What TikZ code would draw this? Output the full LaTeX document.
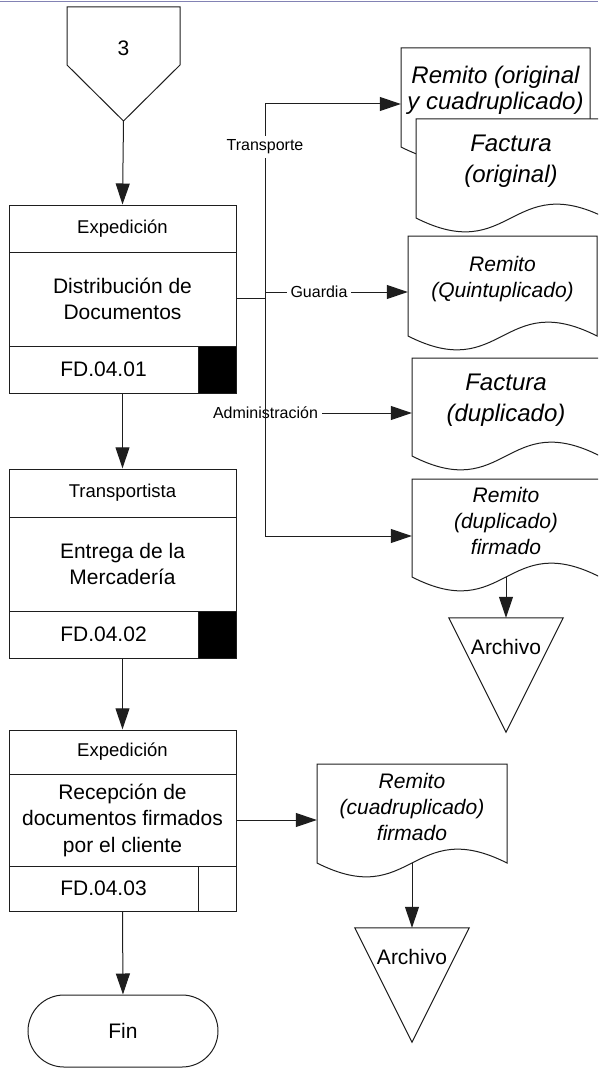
\documentclass[tikz,border=0pt]{standalone}
\usepackage{fontspec}
\setmainfont{Liberation Sans}
\usetikzlibrary{arrows.meta,fit}

\definecolor{ln}{RGB}{30,30,30}
\definecolor{rulecol}{RGB}{130,130,180}

% font sizes (1 unit = 1pt)
\newcommand\fmain{\fontsize{21}{26.5}\selectfont}
\newcommand\fhead{\fontsize{18.5}{22}\selectfont}
\newcommand\flbl{\fontsize{16}{19}\selectfont}
\newcommand\fdoc{\fontsize{21}{26}\selectfont\itshape}
\newcommand\fbig{\fontsize{24}{31}\selectfont\itshape}
\newcommand\fbigtight{\fontsize{24}{26}\selectfont\itshape}

\tikzset{
  line/.style={draw=ln, line width=1pt},
  arrow/.style={line, -{Triangle[length=21pt,width=14pt]}},
  cell/.style={draw=ln, line width=1pt, fill=white, inner sep=0pt},
  txt/.style={align=center, inner sep=0pt},
  docline/.style={draw=ln, line width=1pt, fill=white},
  lbl/.style={font=\flbl, fill=white, inner sep=4pt},
}

% cell with centred text: name, corner, corner, font, text
\newcommand{\cellbox}[5]{%
  \node[cell, fit={#2 #3}] (#1) {};
  \node[txt, font=#4] (#1t) at (#1.center) {#5};
}

% document symbol: name, left, top, right, wave base, font, text
\newcommand{\docshape}[7]{%
  \filldraw[docline] (#2,#3) -- (#4,#3) -- (#4,#5)
    .. controls ({(#2+#4)/2},{#5-48}) and ({(#2+#4)/2},{#5+48}) .. (#2,#5) -- cycle;
  \node[fit={(#2,#3) (#4,#5)}, inner sep=0pt] (#1) {};
  \node[txt, font=#6] (#1t) at ([yshift=7pt]#1.center) {#7};
}

\begin{document}
\begin{tikzpicture}[x=1pt, y=-1pt]
\useasboundingbox (0,0) rectangle (598,1070);
\clip (0,0) rectangle (598,1070);

\draw[rulecol, line width=1pt] (0,2) -- (598,2);

% off-page connector
\draw[line, fill=white] (67,7) -- (180,7) -- (180,65) -- (123.5,121) -- (67,65) -- cycle;
\node[font=\fmain] (c3) at (123.5,48) {3};
\coordinate (c3tip) at (123.5,121);

% process 1
\cellbox{h1}{(9,205)}{(236,252)}{\fhead}{Expedición}
\cellbox{b1}{(9,252)}{(236,346)}{\fmain}{Distribución de\\Documentos}
\cellbox{f1}{(9,346)}{(198,393)}{\fmain}{FD.04.01}
\node[cell, fill=black, fit={(198,346) (236,393)}] (s1) {};
\node[fit=(h1)(f1)(s1), inner sep=0pt] (p1) {};

% process 2
\cellbox{h2}{(9,469)}{(236,517)}{\fhead}{Transportista}
\cellbox{b2}{(9,517)}{(236,611)}{\fmain}{Entrega de la\\Mercadería}
\cellbox{f2}{(9,611)}{(198,658)}{\fmain}{FD.04.02}
\node[cell, fill=black, fit={(198,611) (236,658)}] (s2) {};
\node[fit=(h2)(f2)(s2), inner sep=0pt] (p2) {};

% process 3
\cellbox{h3}{(9,730)}{(236,774)}{\fhead}{Expedición}
\cellbox{b3}{(9,774)}{(236,866)}{\fmain}{Recepción de\\documentos firmados\\por el cliente}
\cellbox{f3}{(9,866)}{(198,911)}{\fmain}{FD.04.03}
\node[cell, fit={(198,866) (236,911)}] (s3) {};
\node[fit=(h3)(f3)(s3), inner sep=0pt] (p3) {};

% terminator
\node[line, rounded corners=36pt, fit={(28,995) (218,1067)}, inner sep=0pt] (fin) {};
\node[txt, font=\fmain] (fint) at (fin.center) {Fin};

% documents
\docshape{d1}{401}{48}{590}{147}{\fbigtight}{Remito (original\\y cuadruplicado)}
\docshape{d2}{416}{119}{606}{218}{\fbig}{Factura\\(original)}
\docshape{d3}{408}{236}{597}{336}{\fdoc}{Remito\\(Quintuplicado)}
\docshape{d4}{412}{358}{600}{456}{\fbig}{Factura\\(duplicado)}
\docshape{d5}{412}{479}{600}{577}{\fdoc}{Remito\\(duplicado)\\firmado}
\docshape{d6}{317}{764}{507}{863}{\fdoc}{Remito\\(cuadruplicado)\\firmado}

% archive symbols
\node[fit={(449,618) (563,732)}, inner sep=0pt] (a1) {};
\draw[line, fill=white] (a1.north west) -- (a1.north east) -- (a1.south) -- cycle;
\node[font=\fmain] (a1t) at (506,647) {Archivo};
\node[fit={(355,928) (469,1042)}, inner sep=0pt] (a2) {};
\draw[line, fill=white] (a2.north west) -- (a2.north east) -- (a2.south) -- cycle;
\node[font=\fmain] (a2t) at (412,957) {Archivo};

% main flow
\draw[arrow] (c3tip) -- (h1.north);
\draw[arrow] (p1.south) -- (p2.north);
\draw[arrow] (p2.south) -- (p3.north);
\draw[arrow] (p3.south) -- (fin.north);

% distribution branches
\coordinate (jT) at (265,104);
\coordinate (jM) at (265,298);
\coordinate (jG) at (265,292);
\coordinate (jA) at (265.5,413);
\coordinate (jB) at (265,536);

\node[lbl] (lA) at (jA) {Administración};
\draw[arrow] (lA.east) -- (lA.east -| d4.west);
\draw[line] (jT) -- node[lbl, pos=0.0995] (lT) {Transporte} (jB);
\draw[line] (b1.east |- jM) -- (jM);
\draw[arrow] (jT) -- (jT -| d1.west);
\draw[arrow] (jG) -- node[lbl, pos=0.378] (lG) {Guardia} (jG -| d3.west);
\draw[arrow] (jB) -- (jB -| d5.west);

% filing
\draw[arrow] (d5.south) -- (a1.north);
\draw[arrow] (b3.east) -- (b3.east -| d6.west);
\draw[arrow] (d6.south) -- (a2.north);
\end{tikzpicture}
\end{document}
